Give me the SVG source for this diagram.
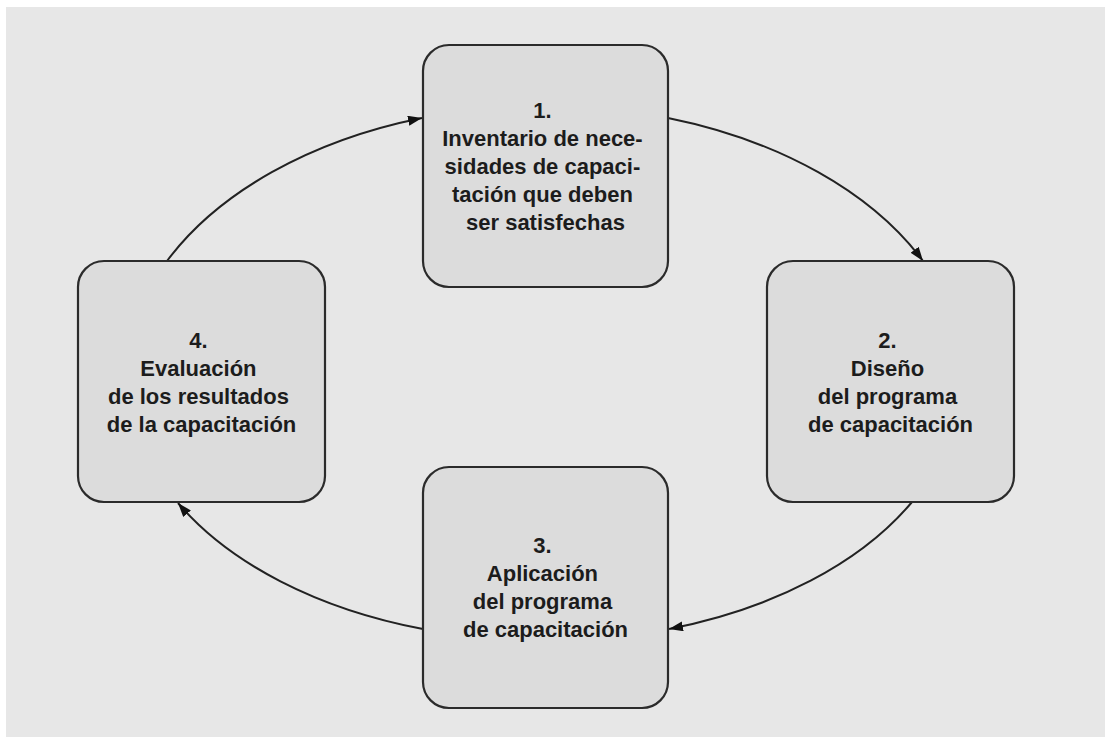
<svg xmlns="http://www.w3.org/2000/svg" width="1105" height="737" viewBox="0 0 1105 737">
  <style>
    .box { fill: #dcdcdc; stroke: #2b2b2b; stroke-width: 2.2; }
    .lbl { font-family: "Liberation Sans", Arial, Helvetica, sans-serif; font-weight: bold; font-size: 22px; fill: #1c1c1c; text-anchor: middle; }
    .conn { fill: none; stroke: #222; stroke-width: 2; marker-end: url(#arrow); }
  </style>
  <defs>
    <marker id="arrow" markerUnits="userSpaceOnUse" markerWidth="16" markerHeight="12" refX="14" refY="5" orient="auto">
      <path d="M0,0 L14,5 L0,10 Z" fill="#111"/>
    </marker>
  </defs>
  <rect x="0" y="0" width="1105" height="737" fill="#ffffff"/>
  <rect x="6" y="7" width="1099" height="730" fill="#e7e7e7"/>

  <g id="connectors">
    <path class="conn" d="M167,261 A422,276 0 0 1 422,118"/>
    <path class="conn" d="M668,118 A422,276 0 0 1 923,261"/>
    <path class="conn" d="M912,502 A413,259 0 0 1 669,629"/>
    <path class="conn" d="M423,629 A413,259 0 0 1 178,503"/>
  </g>

  <g id="node1">
    <rect class="box" x="423" y="45" width="245" height="242" rx="26" ry="26"/>
    <text class="lbl">
      <tspan x="545.5" y="118">1.</tspan>
      <tspan x="545.5" y="146">Inventario de nece-</tspan>
      <tspan x="545.5" y="174">sidades de capaci-</tspan>
      <tspan x="545.5" y="202">tación que deben</tspan>
      <tspan x="545.5" y="230">ser satisfechas</tspan>
    </text>
  </g>

  <g id="node2">
    <rect class="box" x="767" y="261" width="247" height="241" rx="26" ry="26"/>
    <text class="lbl">
      <tspan x="890.5" y="348">2.</tspan>
      <tspan x="890.5" y="376">Diseño</tspan>
      <tspan x="890.5" y="404">del programa</tspan>
      <tspan x="890.5" y="432">de capacitación</tspan>
    </text>
  </g>

  <g id="node3">
    <rect class="box" x="423" y="467" width="245" height="241" rx="26" ry="26"/>
    <text class="lbl">
      <tspan x="545.5" y="553">3.</tspan>
      <tspan x="545.5" y="581">Aplicación</tspan>
      <tspan x="545.5" y="609">del programa</tspan>
      <tspan x="545.5" y="637">de capacitación</tspan>
    </text>
  </g>

  <g id="node4">
    <rect class="box" x="78" y="261" width="247" height="241" rx="26" ry="26"/>
    <text class="lbl">
      <tspan x="201.5" y="348">4.</tspan>
      <tspan x="201.5" y="376">Evaluación</tspan>
      <tspan x="201.5" y="404">de los resultados</tspan>
      <tspan x="201.5" y="432">de la capacitación</tspan>
    </text>
  </g>
</svg>
